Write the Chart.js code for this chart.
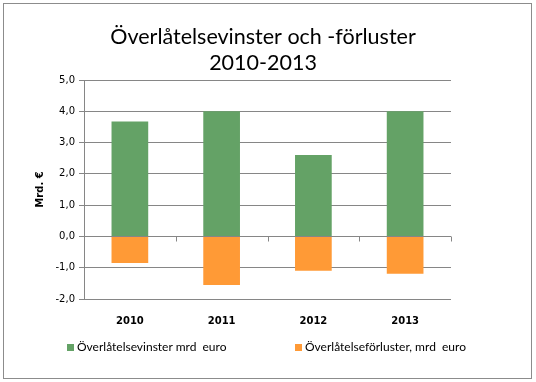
<!DOCTYPE html>
<html>
<head>
<meta charset="utf-8">
<script src="https://cdn.jsdelivr.net/npm/chart.js@4"></script>
<style>
  body { margin: 0; background: #fff; }
  #wrap { position: relative; width: 536px; height: 382px; }
  #frame { position: absolute; left: 3px; top: 3px; width: 527px; height: 374px; border: 1px solid #8c8c8c; }
  canvas { position: absolute; left: 0; top: 0; }
  .leg { position: absolute; top: 339px; font: 12px Lato, sans-serif; color: #000; white-space: pre; }
  .leg i { display: inline-block; width: 7px; height: 7px; margin-right: 3px; vertical-align: 0px; }
</style>
</head>
<body>
<div id="wrap">
  <div id="frame"></div>
  <canvas id="c" width="536" height="382"></canvas>
  <div class="leg" style="left:67px"><i style="background:#64a266"></i>Överlåtelsevinster mrd  euro</div>
  <div class="leg" style="left:295px"><i style="background:#ff9a36"></i>Överlåtelseförluster, mrd  euro</div>
</div>
<script>
const years = ['2010', '2011', '2012', '2013'];
const gains = [3.67, 4.0, 2.6, 4.0];
const losses = [-0.85, -1.55, -1.1, -1.19];
const gainLabel = 'Överlåtelsevinster mrd  euro';
const lossLabel = 'Överlåtelseförluster, mrd  euro';
const titleLines = ['Överlåtelsevinster och -förluster', '2010-2013'];

const gridGray = '#868686';

// small tick marks on the zero line between categories, like Excel
const zeroTicks = {
  id: 'zeroTicks',
  afterDatasetsDraw(chart) {
    const { ctx, scales: { x, y } } = chart;
    const y0 = Math.round(y.getPixelForValue(0)) + 0.5;
    const step = x.width / years.length;
    ctx.save();
    ctx.strokeStyle = gridGray;
    ctx.lineWidth = 1;
    ctx.beginPath();
    for (let i = 1; i <= years.length; i++) {
      const px = Math.round(x.left + step * i) + 0.5;
      ctx.moveTo(px, y0);
      ctx.lineTo(px, y0 + 5);
    }
    ctx.stroke();
    ctx.restore();
  }
};

// title centred on the whole frame, not on the plot
const pageTitle = {
  id: 'pageTitle',
  afterDraw(chart) {
    const ctx = chart.ctx;
    ctx.save();
    ctx.fillStyle = '#000';
    ctx.font = '21.5px Lato, sans-serif';
    ctx.textAlign = 'center';
    ctx.textBaseline = 'middle';
    titleLines.forEach((t, i) => ctx.fillText(t, chart.width / 2 - 5, 37 + i * 26));
    ctx.restore();
  }
};

new Chart(document.getElementById('c'), {
  type: 'bar',
  data: {
    labels: years,
    datasets: [
      { label: gainLabel, data: gains, backgroundColor: '#64a266' },
      { label: lossLabel, data: losses, backgroundColor: '#ff9a36' }
    ]
  },
  options: {
    responsive: false,
    animation: false,
    layout: { padding: { left: 34, right: 85, top: 80, bottom: 55 } },
    datasets: { bar: { categoryPercentage: 1, barPercentage: 0.4 } },
    plugins: {
      legend: { display: false },
      tooltip: { enabled: false },
      title: { display: false }
    },
    scales: {
      x: {
        stacked: true,
        grid: { display: false },
        border: { display: false },
        ticks: { color: '#000', font: { family: 'DejaVu Sans', size: 10, weight: 'bold' }, padding: 8 },
        afterFit(s) { s.height = 28; }
      },
      y: {
        stacked: true,
        min: -2, max: 5,
        ticks: {
          stepSize: 1,
          color: '#000',
          padding: 4,
          font: { family: 'DejaVu Sans', size: 10 },
          callback: v => v.toFixed(1).replace('.', ',')
        },
        grid: { color: gridGray, tickLength: 5, tickColor: gridGray },
        border: { display: true, color: gridGray },
        title: {
          display: true,
          text: 'Mrd. €',
          color: '#000',
          font: { family: 'DejaVu Sans', size: 10, weight: 'bold' },
          padding: 0
        },
        afterFit(s) { s.width = 50; }
      }
    }
  },
  plugins: [zeroTicks, pageTitle]
});
</script>
</body>
</html>
